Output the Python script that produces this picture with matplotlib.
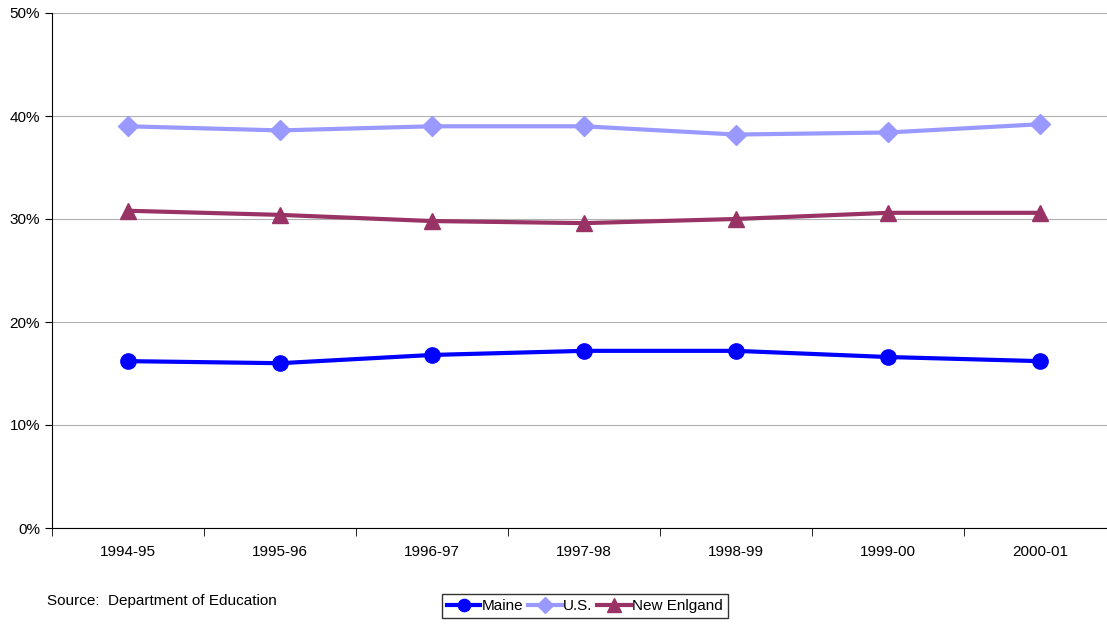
import matplotlib.pyplot as plt
import numpy as np

years = ["1994-95", "1995-96", "1996-97", "1997-98", "1998-99", "1999-00", "2000-01"]
maine = [16.2, 16.0, 16.8, 17.2, 17.2, 16.6, 16.2]
us = [39.0, 38.6, 39.0, 39.0, 38.2, 38.4, 39.2]
new_england = [30.8, 30.4, 29.8, 29.6, 30.0, 30.6, 30.6]

plt.rcParams["font.family"] = ["Liberation Sans", "DejaVu Sans"]
fig = plt.figure(figsize=(11.07, 6.27), dpi=100)
# axes slightly wider than the figure, as in the reference
ax = fig.add_axes([52 / 1107, 1 - 528 / 627, 1064 / 1107, 515 / 627])

x = np.arange(len(years))
ax.plot(x, maine, color="#0000FF", lw=3, marker="o", ms=11, label="Maine")
ax.plot(x, us, color="#9999FF", lw=3, marker="D", ms=10, label="U.S.")
ax.plot(x, new_england, color="#993366", lw=3, marker="^", ms=12, label="New Enlgand")

ax.set_xlim(-0.5, len(years) - 0.5)
ax.set_ylim(0, 50)
ax.set_yticks(range(0, 51, 10))
ax.set_yticklabels([f"{v}%" for v in range(0, 51, 10)], fontsize=11)
ax.set_xticks(x)
ax.set_xticklabels(years, fontsize=11)
ax.set_xticks(np.arange(-0.5, len(years), 1), minor=True)
ax.tick_params(axis="x", which="major", length=0, pad=12)
ax.tick_params(axis="x", which="minor", length=6, direction="out")
ax.tick_params(axis="y", length=5, direction="out")
ax.grid(axis="y", color="#b0b0b0", lw=0.8)
ax.set_axisbelow(True)
for s in ["top", "right"]:
    ax.spines[s].set_visible(False)

fig.text(47 / 1107, 1 - 601 / 627, "Source:  Department of Education", fontsize=11, va="center")
fig.legend(loc="center", bbox_to_anchor=(585 / 1107, 1 - 606 / 627), ncol=3, fontsize=11,
           frameon=True, fancybox=False, edgecolor="black", handlelength=2.2,
           handletextpad=0.1, columnspacing=0.3, borderpad=0.3, markerscale=0.8)

fig.savefig("out.png", dpi=100)
